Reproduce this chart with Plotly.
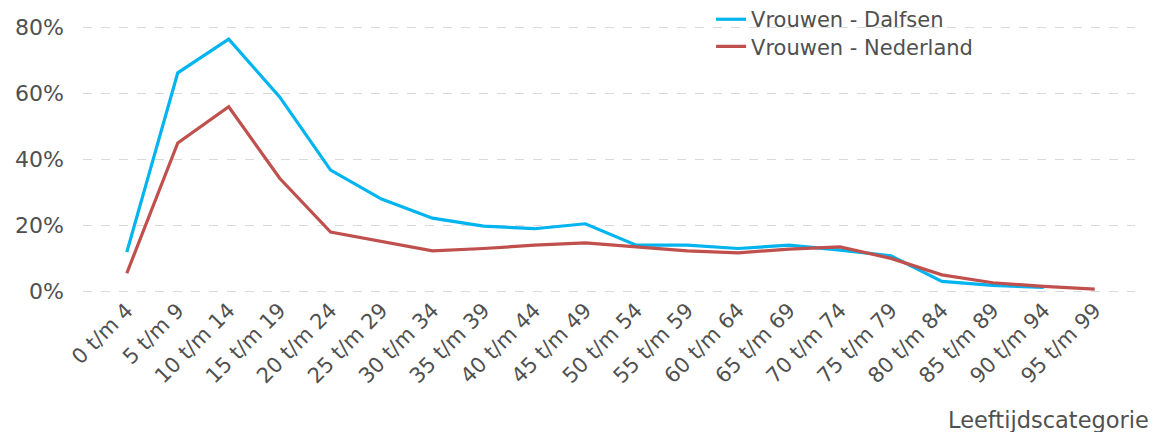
import plotly.graph_objects as go

categories = ["0 t/m 4", "5 t/m 9", "10 t/m 14", "15 t/m 19", "20 t/m 24", "25 t/m 29",
              "30 t/m 34", "35 t/m 39", "40 t/m 44", "45 t/m 49", "50 t/m 54", "55 t/m 59",
              "60 t/m 64", "65 t/m 69", "70 t/m 74", "75 t/m 79", "80 t/m 84", "85 t/m 89",
              "90 t/m 94", "95 t/m 99"]

dalfsen = [0.119, 0.663, 0.765, 0.59, 0.368, 0.28, 0.222, 0.198, 0.19, 0.205,
           0.14, 0.14, 0.13, 0.14, 0.125, 0.108, 0.03, 0.018, 0.012, None]

nederland = [0.055, 0.45, 0.56, 0.343, 0.18, 0.152, 0.123, 0.13, 0.14, 0.147,
             0.135, 0.123, 0.117, 0.128, 0.135, 0.10, 0.05, 0.026, 0.015, 0.007]

series_names = ["Vrouwen - Dalfsen", "Vrouwen - Nederland"]
series_colors = ["#00b4f0", "#c0504d"]

y_ticks = [0, 0.2, 0.4, 0.6, 0.8]
x_title = "Leeftijdscategorie"

FONT = "DejaVu Sans"
TXT = "#505050"

fig = go.Figure()
for i, (name, vals, col) in enumerate(zip(series_names, [dalfsen, nederland], series_colors)):
    fig.add_trace(go.Scatter(
        x=categories, y=vals, name=name, mode="lines",
        line=dict(color=col, width=3.2), connectgaps=False,
        legend="legend" if i == 0 else "legend2",
    ))

legend_common = dict(
    x=0.597, xref="paper", yref="paper", xanchor="left", yanchor="middle",
    font=dict(family=FONT, size=21, color=TXT),
    bgcolor="rgba(0,0,0,0)", itemwidth=30,
)

fig.update_layout(
    width=1154, height=432,
    paper_bgcolor="white", plot_bgcolor="white",
    margin=dict(l=83, r=19, t=26, b=139, autoexpand=False),
    font=dict(family=FONT, size=21, color=TXT),
    showlegend=True,
    legend=dict(y=1.024, **legend_common),
    legend2=dict(y=0.9226, **legend_common),
    xaxis=dict(
        type="category", range=[-0.86, 19.79],
        tickangle=-45, showgrid=False, showline=False, ticks="",
        tickfont=dict(family=FONT, size=21, color=TXT),
        zeroline=False,
    ),
    yaxis=dict(
        range=[-0.005, 0.805], tickvals=y_ticks, tickformat=".0%",
        showgrid=True, gridcolor="#d9d9d9", griddash="dash", gridwidth=1,
        zeroline=False, showline=False, ticks="",
        tickfont=dict(family=FONT, size=22, color=TXT),
        ticklabelstandoff=18,
    ),
    annotations=[dict(
        text=x_title, xref="paper", x=1.0, xanchor="right", xshift=16,
        yref="paper", y=-0.475, yanchor="middle", showarrow=False,
        font=dict(family=FONT, size=22.5, color=TXT),
    )],
)

fig.write_html(
    "out.html",
    config={"displayModeBar": False},
    post_script="document.body.style.margin='0';document.body.style.overflow='hidden';",
)
